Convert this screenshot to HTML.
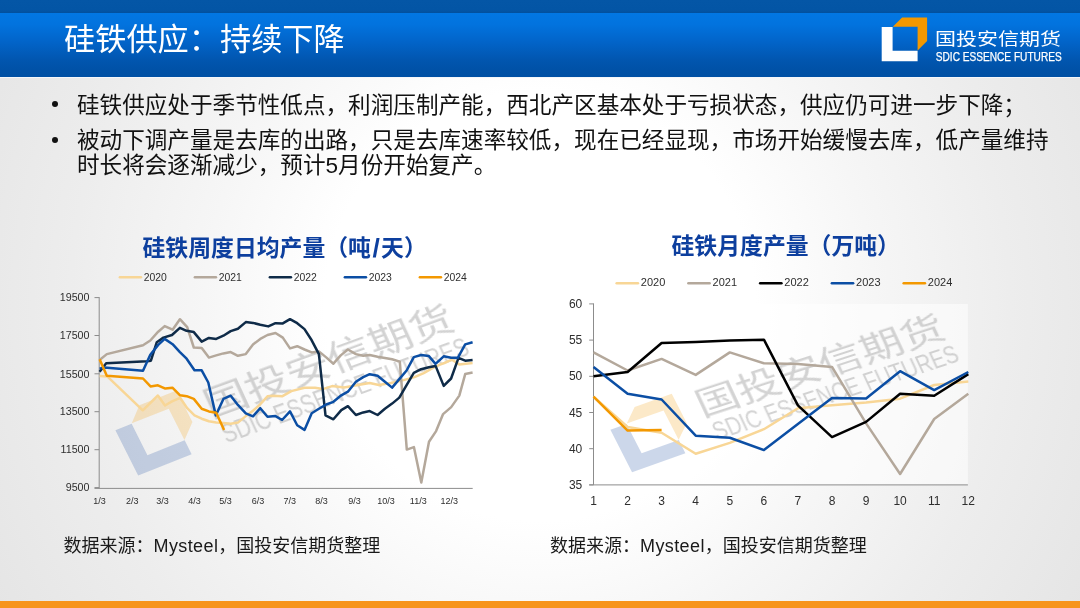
<!DOCTYPE html>
<html><head><meta charset="utf-8"><title>硅铁供应：持续下降</title>
<style>
*{margin:0;padding:0;box-sizing:border-box}
html,body{width:1080px;height:608px;overflow:hidden}
.bul,.title,.ctitle,.src,svg{opacity:0.999}
body{position:relative;font-family:"Liberation Sans","Noto Sans CJK SC",sans-serif;
background:radial-gradient(circle 620px at 540px 306px, #ffffff 0px, #ffffff 215px, #f6f6f6 335px, #ededed 470px, #e5e5e5 620px);}
.topstrip{position:absolute;left:0;top:0;width:1080px;height:12.5px;background:linear-gradient(180deg,#0456a6 0%,#0355a5 80%,#02509d 100%)}
.band{position:absolute;left:0;top:12.5px;width:1080px;height:64px;background:linear-gradient(180deg,#0277e3 0%,#0273de 18%,#0264c9 45%,#0155ae 75%,#0051a6 90%,#0050a4 100%)}
.bandline{position:absolute;left:0;top:76.5px;width:1080px;height:1px;background:#f4f6fa}
.title{position:absolute;left:64px;top:19.5px;font-size:31.2px;line-height:40px;color:#fff;white-space:nowrap;font-family:"Liberation Sans","Noto Sans CJK SC",sans-serif}
.bul{position:absolute;font-size:22.6px;line-height:24px;color:#111;white-space:nowrap;font-family:"Liberation Sans","Noto Sans CJK SC",sans-serif}
.dot{position:absolute;width:6px;height:6px;border-radius:50%;background:#111}
.ctitle{position:absolute;font-size:22.85px;line-height:26px;color:#0d3f9e;font-weight:bold;white-space:nowrap;font-family:"Liberation Sans","Noto Sans CJK SC",sans-serif}
.sl{display:inline-block;padding:0 1.9px;transform:scale(1.15,1.1)}
.ls{letter-spacing:0.4px}
.src{position:absolute;font-size:18px;line-height:22px;color:#1a1a1a;white-space:nowrap;font-family:"Liberation Sans","Noto Sans CJK SC",sans-serif}
.orange{position:absolute;left:0;top:601px;width:1080px;height:7px;background:#f7941d}
svg text.ax{font-size:10.7px;fill:#2e2e2e}
svg text.axs{font-size:9px;fill:#2e2e2e}
svg text.ax2{font-size:12px;fill:#2e2e2e}
svg text.lg{font-size:10.4px;fill:#2e2e2e}
svg text.lg2{font-size:11px;fill:#2e2e2e}
</style></head><body>
<div class="topstrip"></div>
<div class="band"></div>
<div class="bandline"></div>
<div class="title">硅铁供应：持续下降</div>
<svg style="position:absolute;left:0;top:0" width="1080" height="608" viewBox="0 0 1080 608" font-family="Liberation Sans, Noto Sans CJK SC, sans-serif">
<defs><filter id="wmblur" x="-10%" y="-10%" width="120%" height="120%"><feGaussianBlur stdDeviation="0.35"/></filter></defs>
<polygon points="881.7,27.0 892.6,27.0 892.6,50.7 917.6,50.7 917.6,61.2 881.7,61.2" fill="#ffffff"/>
<polygon points="892.8,26.8 902.1,17.4 927.1,17.4 927.1,41.1 917.6,50.5 917.6,26.8" fill="#f39800"/>
<text transform="translate(935,45.4) scale(1,0.83)" x="0" y="0" font-size="21" fill="#ffffff">国投安信期货</text>
<text x="935.8" y="61.1" font-size="11.9" fill="#ffffff" stroke="#ffffff" stroke-width="0.25" textLength="125.9" lengthAdjust="spacingAndGlyphs">SDIC ESSENCE FUTURES</text>
<line x1="94.5" y1="297.6" x2="99.2" y2="297.6" stroke="#8c8c8c" stroke-width="1"/>
<text x="89.5" y="301.3" text-anchor="end" class="ax">19500</text>
<line x1="94.5" y1="335.5" x2="99.2" y2="335.5" stroke="#8c8c8c" stroke-width="1"/>
<text x="89.5" y="339.2" text-anchor="end" class="ax">17500</text>
<line x1="94.5" y1="373.8" x2="99.2" y2="373.8" stroke="#8c8c8c" stroke-width="1"/>
<text x="89.5" y="377.5" text-anchor="end" class="ax">15500</text>
<line x1="94.5" y1="411.7" x2="99.2" y2="411.7" stroke="#8c8c8c" stroke-width="1"/>
<text x="89.5" y="415.4" text-anchor="end" class="ax">13500</text>
<line x1="94.5" y1="449.7" x2="99.2" y2="449.7" stroke="#8c8c8c" stroke-width="1"/>
<text x="89.5" y="453.4" text-anchor="end" class="ax">11500</text>
<line x1="94.5" y1="487.6" x2="99.2" y2="487.6" stroke="#8c8c8c" stroke-width="1"/>
<text x="89.5" y="491.3" text-anchor="end" class="ax">9500</text>
<line x1="99.2" y1="297.1" x2="99.2" y2="488.4" stroke="#8c8c8c" stroke-width="1"/>
<line x1="94.5" y1="488.4" x2="472.7" y2="488.4" stroke="#8c8c8c" stroke-width="1"/>
<text x="99.6" y="503.9" text-anchor="middle" class="axs">1/3</text>
<text x="132.3" y="503.9" text-anchor="middle" class="axs">2/3</text>
<text x="162.5" y="503.9" text-anchor="middle" class="axs">3/3</text>
<text x="194.4" y="503.9" text-anchor="middle" class="axs">4/3</text>
<text x="225.6" y="503.9" text-anchor="middle" class="axs">5/3</text>
<text x="258" y="503.9" text-anchor="middle" class="axs">6/3</text>
<text x="289.8" y="503.9" text-anchor="middle" class="axs">7/3</text>
<text x="321.5" y="503.9" text-anchor="middle" class="axs">8/3</text>
<text x="354.5" y="503.9" text-anchor="middle" class="axs">9/3</text>
<text x="386.1" y="503.9" text-anchor="middle" class="axs">10/3</text>
<text x="418.3" y="503.9" text-anchor="middle" class="axs">11/3</text>
<text x="449.3" y="503.9" text-anchor="middle" class="axs">12/3</text>
<g transform="translate(115.4,430.2) scale(1.631,1.453) rotate(-24.1)"><polygon points="0.0,0.0 10.9,0.0 10.9,23.7 35.9,23.7 35.9,34.2 0.0,34.2" fill="#3560AA" fill-opacity="0.25"/><polygon points="11.1,-0.2 20.4,-9.6 45.4,-9.6 45.4,14.1 35.9,23.5 35.9,-0.2" fill="#F5A623" fill-opacity="0.25"/><g transform="translate(0,0) rotate(1.8,70,6)" fill="#a8a8a8" fill-opacity="0.5" filter="url(#wmblur)" font-family="Liberation Sans, Noto Sans CJK SC, sans-serif"><text transform="translate(57.2,16.6) scale(1,0.9)" x="0" y="0" font-size="27.2" font-weight="400">国投安信期货</text><text x="59.5" y="36.2" font-size="18.2" textLength="162" lengthAdjust="spacingAndGlyphs">SDIC ESSENCE FUTURES</text></g></g>
<polyline points="99.6,375.9 107.5,376.6 142.8,410.3 157.9,395.5 165.0,405.5 172.0,401.4 180.1,397.8 187.2,408.2 194.5,415.4 201.7,418.7 208.9,421.3 216.2,422.6 223.4,422.9 230.7,423.7 237.9,422.6 245.8,416.1 253.0,410.8 260.3,404.2 267.5,396.3 272.9,395.7 282.1,396.3 291.3,391.1 304.5,387.8 315.0,387.8 322.9,389.1 332.1,386.1 343.9,387.4 356.6,385.3 369.7,383.0 378.9,385.0 390.8,383.0 402.6,380.4 414.5,377.1 423.7,373.2 432.9,367.9 440.0,364.6 444.4,363.0 451.9,359.7 459.3,364.4 472.6,363.0" fill="none" stroke="#F8D696" stroke-width="2.5" stroke-linejoin="round" stroke-linecap="butt"/>
<polyline points="99.6,360.0 106.8,354.1 143.0,345.3 150.3,340.5 158.2,331.7 164.7,326.1 172.6,329.7 179.9,319.2 187.2,327.1 193.8,347.5 201.7,347.9 208.9,357.6 216.2,355.4 223.4,353.4 230.7,352.1 237.9,355.8 245.8,354.1 253.0,344.5 260.3,338.9 267.5,335.0 275.5,333.0 282.8,337.6 290.0,348.4 297.2,346.2 304.5,349.5 311.7,352.4 318.9,351.4 326.2,357.4 333.4,363.7 340.7,355.4 347.9,349.5 355.9,354.1 363.2,355.8 369.7,355.0 377.6,356.7 384.9,358.0 392.1,359.3 399.8,361.6 406.8,449.6 413.9,447.1 421.3,482.6 429.0,441.7 436.1,431.1 443.1,414.1 451.2,407.1 459.3,395.6 465.2,374.1 472.6,372.6" fill="none" stroke="#B4A89B" stroke-width="2.5" stroke-linejoin="round" stroke-linecap="butt"/>
<polyline points="99.6,371.8 106.2,363.3 147.0,361.3 150.9,360.7 156.8,342.2 163.4,337.6 172.0,335.0 179.9,327.8 186.6,330.8 193.8,332.1 201.7,341.6 208.9,337.9 216.2,338.9 223.4,335.7 230.7,331.1 237.9,328.7 245.8,322.1 253.0,322.9 260.3,324.7 268.3,326.4 275.5,323.2 282.8,323.4 290.0,319.2 297.2,323.2 304.5,329.1 311.7,340.3 318.9,354.1 325.5,415.4 333.4,419.3 341.3,410.1 347.9,406.2 355.9,415.0 363.2,412.4 369.7,411.1 377.6,415.0 384.9,408.8 392.1,403.6 399.3,397.6 406.6,385.1 413.8,372.9 421.1,369.2 428.9,367.2 435.6,365.9 443.7,385.9 451.1,378.5 458.5,357.8 465.2,360.7 472.6,360.0" fill="none" stroke="#0F2B48" stroke-width="2.5" stroke-linejoin="round" stroke-linecap="butt"/>
<polyline points="99.6,368.6 104.2,367.5 143.0,370.8 150.3,354.7 158.2,344.9 164.7,338.9 172.6,344.2 179.9,352.1 186.6,358.7 194.5,370.3 201.7,370.3 208.3,382.5 215.8,415.4 223.4,398.9 230.7,395.7 237.9,404.9 245.8,413.4 253.0,416.3 260.3,408.2 267.5,416.7 275.5,416.1 282.1,420.0 290.0,411.4 297.2,425.3 304.5,429.9 311.7,413.2 318.9,408.8 326.2,404.5 333.4,401.8 341.3,395.3 347.9,391.7 355.9,381.7 363.2,377.1 369.7,374.2 377.6,375.8 384.9,381.7 392.1,387.6 399.3,379.1 406.6,370.5 413.8,357.1 421.1,355.0 428.9,356.1 435.5,363.9 443.7,356.3 451.1,357.8 457.8,357.8 465.2,344.4 472.6,342.2" fill="none" stroke="#0B4EA4" stroke-width="2.5" stroke-linejoin="round" stroke-linecap="butt"/>
<polyline points="99.6,359.3 106.8,375.8 143.0,378.5 150.5,386.4 157.9,385.3 165.3,388.6 172.4,387.7 180.1,395.3 186.7,396.2 193.8,398.9 201.7,408.8 208.9,411.4 216.2,412.8 224.1,429.9" fill="none" stroke="#F39800" stroke-width="2.5" stroke-linejoin="round" stroke-linecap="butt"/>
<line x1="119.9" y1="277.2" x2="140.9" y2="277.2" stroke="#F8D696" stroke-width="2.6" stroke-linecap="round"/>
<text x="143.7" y="280.6" class="lg">2020</text>
<line x1="194.9" y1="277.2" x2="215.9" y2="277.2" stroke="#B4A89B" stroke-width="2.6" stroke-linecap="round"/>
<text x="218.7" y="280.6" class="lg">2021</text>
<line x1="269.9" y1="277.2" x2="290.9" y2="277.2" stroke="#0F2B48" stroke-width="2.6" stroke-linecap="round"/>
<text x="293.7" y="280.6" class="lg">2022</text>
<line x1="344.9" y1="277.2" x2="365.9" y2="277.2" stroke="#0B4EA4" stroke-width="2.6" stroke-linecap="round"/>
<text x="368.7" y="280.6" class="lg">2023</text>
<line x1="419.9" y1="277.2" x2="440.9" y2="277.2" stroke="#F39800" stroke-width="2.6" stroke-linecap="round"/>
<text x="443.7" y="280.6" class="lg">2024</text>
<rect x="593.5" y="303.9" width="374.4" height="180.8" fill="#ffffff" fill-opacity="0.55"/>
<line x1="589.2" y1="303.9" x2="593.5" y2="303.9" stroke="#8c8c8c" stroke-width="1"/>
<text x="582.3" y="308.0" text-anchor="end" class="ax2">60</text>
<line x1="589.2" y1="340.1" x2="593.5" y2="340.1" stroke="#8c8c8c" stroke-width="1"/>
<text x="582.3" y="344.2" text-anchor="end" class="ax2">55</text>
<line x1="589.2" y1="376.3" x2="593.5" y2="376.3" stroke="#8c8c8c" stroke-width="1"/>
<text x="582.3" y="380.4" text-anchor="end" class="ax2">50</text>
<line x1="589.2" y1="412.5" x2="593.5" y2="412.5" stroke="#8c8c8c" stroke-width="1"/>
<text x="582.3" y="416.6" text-anchor="end" class="ax2">45</text>
<line x1="589.2" y1="448.7" x2="593.5" y2="448.7" stroke="#8c8c8c" stroke-width="1"/>
<text x="582.3" y="452.8" text-anchor="end" class="ax2">40</text>
<line x1="589.2" y1="484.9" x2="593.5" y2="484.9" stroke="#8c8c8c" stroke-width="1"/>
<text x="582.3" y="489.0" text-anchor="end" class="ax2">35</text>
<line x1="593.5" y1="303.4" x2="593.5" y2="484.9" stroke="#8c8c8c" stroke-width="1"/>
<line x1="589.2" y1="484.9" x2="967.9" y2="484.9" stroke="#8c8c8c" stroke-width="1"/>
<text x="593.5" y="504.7" text-anchor="middle" class="ax2">1</text>
<text x="627.6" y="504.7" text-anchor="middle" class="ax2">2</text>
<text x="661.6" y="504.7" text-anchor="middle" class="ax2">3</text>
<text x="695.7" y="504.7" text-anchor="middle" class="ax2">4</text>
<text x="729.8" y="504.7" text-anchor="middle" class="ax2">5</text>
<text x="763.9" y="504.7" text-anchor="middle" class="ax2">6</text>
<text x="797.9" y="504.7" text-anchor="middle" class="ax2">7</text>
<text x="832.0" y="504.7" text-anchor="middle" class="ax2">8</text>
<text x="866.1" y="504.7" text-anchor="middle" class="ax2">9</text>
<text x="900.1" y="504.7" text-anchor="middle" class="ax2">10</text>
<text x="934.2" y="504.7" text-anchor="middle" class="ax2">11</text>
<text x="968.3" y="504.7" text-anchor="middle" class="ax2">12</text>
<g transform="translate(610.4,429.7) scale(1.615,1.351) rotate(-23.1)"><polygon points="0.0,0.0 10.9,0.0 10.9,23.7 35.9,23.7 35.9,34.2 0.0,34.2" fill="#3560AA" fill-opacity="0.25"/><polygon points="11.1,-0.2 20.4,-9.6 45.4,-9.6 45.4,14.1 35.9,23.5 35.9,-0.2" fill="#F5A623" fill-opacity="0.25"/><g transform="translate(-0.8,-2.6) rotate(1.8,70,6)" fill="#a8a8a8" fill-opacity="0.5" filter="url(#wmblur)" font-family="Liberation Sans, Noto Sans CJK SC, sans-serif"><text transform="translate(57.2,16.6) scale(1,0.9)" x="0" y="0" font-size="27.2" font-weight="400">国投安信期货</text><text x="59.5" y="36.2" font-size="18.2" textLength="162" lengthAdjust="spacingAndGlyphs">SDIC ESSENCE FUTURES</text></g></g>
<polyline points="593.5,396.6 627.6,427.0 661.6,432.8 695.7,453.8 729.8,442.9 763.9,429.2 797.9,408.2 832.0,405.3 866.1,402.4 900.1,398.7 934.2,385.0 968.3,381.4" fill="none" stroke="#F8D696" stroke-width="2.5" stroke-linejoin="round" stroke-linecap="butt"/>
<polyline points="593.5,352.4 627.6,370.5 661.6,358.9 695.7,374.9 729.8,352.4 763.9,363.3 797.9,364.0 832.0,366.9 866.1,423.4 900.1,474.0 934.2,419.0 968.3,393.7" fill="none" stroke="#B4A89B" stroke-width="2.5" stroke-linejoin="round" stroke-linecap="butt"/>
<polyline points="593.5,376.3 627.6,372.0 661.6,343.0 695.7,341.9 729.8,340.5 763.9,339.7 797.9,405.3 832.0,437.1 866.1,421.9 900.1,393.7 934.2,395.8 968.3,374.1" fill="none" stroke="#000000" stroke-width="2.5" stroke-linejoin="round" stroke-linecap="butt"/>
<polyline points="593.5,366.9 627.6,393.7 661.6,399.5 695.7,435.7 729.8,437.8 763.9,450.1 797.9,424.1 832.0,398.0 866.1,398.4 900.1,371.2 934.2,390.1 968.3,372.0" fill="none" stroke="#0B4EA4" stroke-width="2.5" stroke-linejoin="round" stroke-linecap="butt"/>
<polyline points="593.5,396.6 627.6,430.6 661.6,429.9" fill="none" stroke="#F39800" stroke-width="2.5" stroke-linejoin="round" stroke-linecap="butt"/>
<line x1="616.7" y1="283.3" x2="637.9" y2="283.3" stroke="#F8D696" stroke-width="2.6" stroke-linecap="round"/>
<text x="640.8" y="286.0" class="lg2">2020</text>
<line x1="688.4" y1="283.3" x2="709.6" y2="283.3" stroke="#B4A89B" stroke-width="2.6" stroke-linecap="round"/>
<text x="712.55" y="286.0" class="lg2">2021</text>
<line x1="760.2" y1="283.3" x2="781.4" y2="283.3" stroke="#000000" stroke-width="2.6" stroke-linecap="round"/>
<text x="784.3" y="286.0" class="lg2">2022</text>
<line x1="831.9" y1="283.3" x2="853.1" y2="283.3" stroke="#0B4EA4" stroke-width="2.6" stroke-linecap="round"/>
<text x="856.05" y="286.0" class="lg2">2023</text>
<line x1="903.7" y1="283.3" x2="924.9" y2="283.3" stroke="#F39800" stroke-width="2.6" stroke-linecap="round"/>
<text x="927.8" y="286.0" class="lg2">2024</text>
</svg>
<div class="dot" style="left:52.3px;top:101.4px"></div>
<div class="bul" style="left:77px;top:93.7px">硅铁供应处于季节性低点，利润压制产能，西北产区基本处于亏损状态，供应仍可进一步下降；</div>
<div class="dot" style="left:52.3px;top:136.6px"></div>
<div class="bul" style="left:77px;top:129.3px">被动下调产量是去库的出路，只是去库速率较低，现在已经显现，市场开始缓慢去库，低产量维持</div>
<div class="bul" style="left:77px;top:153.9px">时长将会逐渐减少，预计5月份开始复产。</div>
<div class="ctitle" style="left:142.5px;top:234.9px">硅铁周度日均产量（吨<span class="sl">/</span>天）</div>
<div class="ctitle" style="left:671.5px;top:232.9px">硅铁月度产量（万吨）</div>
<div class="src" style="left:63.5px;top:535px">数据来源：<span class="ls">Mysteel</span>，国投安信期货整理</div>
<div class="src" style="left:550px;top:535px">数据来源：<span class="ls">Mysteel</span>，国投安信期货整理</div>
<div class="orange"></div>
</body></html>
